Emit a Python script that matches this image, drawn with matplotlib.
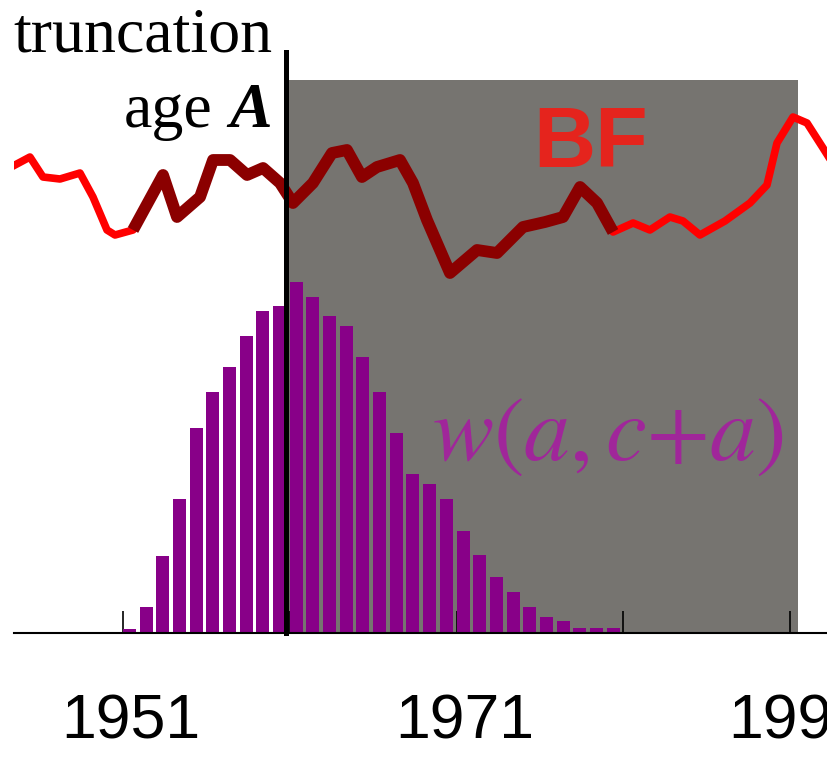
import matplotlib
matplotlib.use("Agg")
import matplotlib.pyplot as plt
import matplotlib.transforms as mtransforms
import numpy as np

# BF series, years and level in arbitrary units
bf_years = [1944.52, 1945.42, 1946.20, 1947.22, 1948.42, 1949.20, 1950.04, 1950.52,
            1951.60, 1953.40, 1954.24, 1955.62, 1956.40, 1957.42, 1958.44, 1959.40,
            1960.42, 1961.19, 1962.39, 1963.53, 1964.43, 1965.33, 1966.23, 1967.61,
            1968.39, 1969.23, 1970.61, 1972.23, 1973.43, 1974.99, 1976.31, 1977.39,
            1978.41, 1979.43, 1980.39, 1981.59, 1982.60, 1983.80, 1984.58, 1985.60,
            1987.10, 1988.60, 1989.62, 1990.22, 1991.18, 1992.02, 1992.98, 1994.00]
bf_values = [4.68, 4.76, 4.56, 4.54, 4.60, 4.36, 4.03, 3.98,
             4.03, 4.58, 4.16, 4.36, 4.73, 4.73, 4.58, 4.65,
             4.50, 4.30, 4.50, 4.80, 4.83, 4.56, 4.66, 4.73,
             4.50, 4.13, 3.60, 3.83, 3.80, 4.06, 4.11, 4.16,
             4.46, 4.30, 4.01, 4.10, 4.03, 4.16, 4.12, 3.98,
             4.12, 4.30, 4.48, 4.90, 5.16, 5.10, 4.85, 4.58]
cohort_start, cohort_end = 1951.5, 1980.5   # dark part of the BF curve

# weights w(a, c+a) per year
w_years = list(range(1951, 1981))
w_values = [0.04, 0.26, 0.77, 1.34, 2.05, 2.41, 2.66, 2.97, 3.22, 3.27,
            3.51, 3.36, 3.17, 3.07, 2.76, 2.41, 2.00, 1.59, 1.49, 1.34,
            1.02, 0.78, 0.56, 0.41, 0.26, 0.16, 0.12, 0.05, 0.05, 0.05]

trunc_year = 1960.8
shade_end = 1991.48
shade_top = 5.53
tick_years = [1951, 1961, 1971, 1981, 1991]
tick_labels = ["1951", "", "1971", "", "1991"]

W, H = 827, 759
fig = plt.figure(figsize=(W / 100, H / 100), dpi=100)
# axes runs past the right edge, the picture is cropped there
ax = fig.add_axes([14 / W, (H - 633) / H, (900 - 14) / W, 633 / H])
px_per_year = 16.675
ax.set_xlim(1951 - (123 - 14) / px_per_year, 1951 + (900 - 123) / px_per_year)
ax.set_ylim(0, 6.33)
ax.patch.set_alpha(0)

ax.fill_between([trunc_year, shade_end], 0, shade_top, color="#767470", lw=0, zorder=1)

ax.bar(w_years, w_values, width=0.78, align="edge", color="#880088", lw=0, zorder=2)

bx = np.array(bf_years)
by = np.array(bf_values)
ax.plot(bx, by, color="#ff0000", lw=5.5, solid_joinstyle="round", zorder=3)
m = (bx >= cohort_start) & (bx <= cohort_end)
ax.plot(bx[m], by[m], color="#8b0000", lw=8.5, solid_joinstyle="round",
        solid_capstyle="butt", zorder=4)

ax.plot([trunc_year, trunc_year], [0, 5.81], color="black", lw=3.6, zorder=5,
        clip_on=False)

for s in ["top", "right", "left"]:
    ax.spines[s].set_visible(False)
ax.spines["bottom"].set_linewidth(1.5)
ax.set_yticks([])
ax.set_xticks(tick_years)
ax.set_xticklabels(tick_labels, fontfamily="Liberation Sans", fontsize=45)
ax.tick_params(axis="x", direction="in", length=16, width=1.2, pad=43)
shift = mtransforms.ScaledTranslation(8 / 100, 0, fig.dpi_scale_trans)
for lab in ax.get_xticklabels():
    lab.set_transform(lab.get_transform() + shift)

serif = "Liberation Serif"
fig.text(272 / W, 1 - 52 / H, "truncation", ha="right", va="baseline",
         fontfamily=serif, fontsize=46)
fig.text(212 / W, 1 - 127 / H, "age", ha="right", va="baseline",
         fontfamily=serif, fontsize=46)
fig.text(272 / W, 1 - 127 / H, "A", ha="right", va="baseline",
         fontfamily=serif, fontsize=46, fontweight="bold", fontstyle="italic")

fig.text(533 / W, 1 - 167 / H, "BF", ha="left", va="baseline",
         fontfamily="Liberation Sans", fontweight="bold", fontsize=62, color="#e5241d")

plt.rcParams["mathtext.fontset"] = "stix"
fig.text(432 / W, 1 - 460 / H, r"$w(a,c{+}a)$", ha="left", va="baseline",
         fontsize=66, color="#a0269a")

fig.savefig("out.png", dpi=100)
